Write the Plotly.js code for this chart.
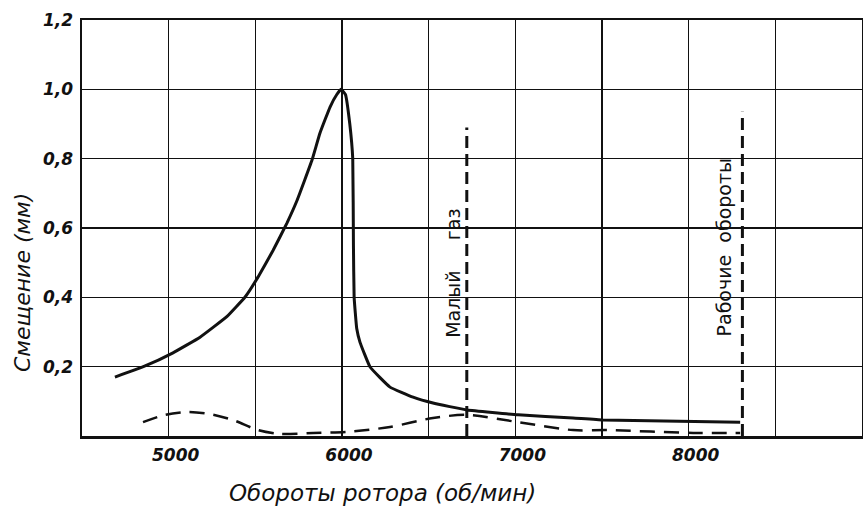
<!DOCTYPE html>
<html>
<head>
<meta charset="utf-8">
<script src="https://cdn.plot.ly/plotly-3.0.1.min.js"></script>
<style>html,body{margin:0;padding:0;background:#fff;}#chart{width:863px;height:508px;}</style>
</head>
<body>
<div id="chart"></div>
<script>
// Solid curve: displacement (mm) vs rotor speed (rpm)
const solidRpm = [4690, 4864, 5025, 5181, 5337, 5441, 5516, 5602, 5683, 5741, 5827, 5873, 5931, 5970, 5995, 6020, 6045, 6062, 6066, 6070, 6085, 6104, 6162, 6277, 6410, 6525, 6722, 7016, 7333, 7506, 8297];
const solidMm  = [0.170, 0.202, 0.240, 0.285, 0.345, 0.401, 0.459, 0.535, 0.615, 0.680, 0.796, 0.874, 0.949, 0.985, 1.000, 0.985, 0.900, 0.800, 0.550, 0.400, 0.310, 0.270, 0.199, 0.141, 0.112, 0.095, 0.075, 0.061, 0.052, 0.046, 0.040];
// Dashed curve
const dashRpm = [4852, 4979, 5106, 5239, 5371, 5516, 5643, 5833, 6029, 6277, 6525, 6722, 7016, 7333, 7530, 8026, 8297];
const dashMm  = [0.040, 0.061, 0.069, 0.063, 0.046, 0.017, 0.006, 0.009, 0.012, 0.026, 0.052, 0.061, 0.040, 0.017, 0.017, 0.009, 0.009];
// Marker lines
const idleRpm = [6720, 6720];
const idleMm  = [0, 0.89];
const workRpm = [8310, 8310];
const workMm  = [0, 0.935];
const idleLabel = "Малый\u00a0\u00a0\u00a0\u00a0\u00a0газ";
const workLabel = "Рабочие\u00a0 обороты";
// Ticks
const xTickVals = [4500, 5000, 5500, 6000, 6500, 7000, 7500, 8000, 8500, 9000];
const xTickText = ["", "5000", "", "6000", "", "7000", "", "8000", "", ""];
const yTickVals = [0, 0.2, 0.4, 0.6, 0.8, 1.0, 1.2];
const yTickText = ["", "0,2", "0,4", "0,6", "0,8", "1,0", "1,2"];
const xTitle = "Обороты ротора (об/мин)";
const yTitle = "Смещение (мм)";

const TICK = "DejaVu Sans, sans-serif";
const HAND = "DejaVu Sans, sans-serif";

const traces = [
  {x: solidRpm, y: solidMm, mode: "lines", line: {color: "#111", width: 3, shape: "spline", smoothing: 0.3}, showlegend: false},
  {x: dashRpm, y: dashMm, mode: "lines", line: {color: "#111", width: 2.5, dash: "15px,9px", shape: "spline", smoothing: 0.8}, showlegend: false},
  {x: idleRpm, y: idleMm, mode: "lines", line: {color: "#111", width: 3, dash: "12px,6px"}, showlegend: false},
  {x: workRpm, y: workMm, mode: "lines", line: {color: "#111", width: 3, dash: "12px,6px"}, showlegend: false}
];

const layout = {
  width: 863, height: 508,
  margin: {l: 82, r: 1, t: 20, b: 72},
  paper_bgcolor: "#fff", plot_bgcolor: "#fff",
  showlegend: false,
  xaxis: {
    range: [4500, 9000], tickmode: "array", tickvals: xTickVals, ticktext: xTickText,
    showgrid: true, gridcolor: "#111", gridwidth: 1.5, zeroline: false,
    showline: true, linecolor: "#111", linewidth: 2.5, mirror: true, ticks: "",
    ticklabelshift: 7, ticklabelstandoff: 2,
    tickfont: {family: TICK, size: 17, color: "#111", style: "italic", weight: "bold"}
  },
  yaxis: {
    range: [0, 1.2], tickmode: "array", tickvals: yTickVals, ticktext: yTickText,
    showgrid: true, gridcolor: "#111", gridwidth: 1.5, zeroline: false,
    showline: true, linecolor: "#111", linewidth: 2.5, mirror: true, ticks: "",
    ticklabelstandoff: 3,
    tickfont: {family: TICK, size: 17, color: "#111", style: "italic", weight: "bold"}
  },
  annotations: [
    {x: idleRpm[0], y: 0.47, xref: "x", yref: "y", text: idleLabel, textangle: -90, showarrow: false,
     xshift: -14, font: {family: HAND, size: 19, color: "#111"}},
    {x: workRpm[0], y: 0.545, xref: "x", yref: "y", text: workLabel, textangle: -90, showarrow: false,
     xshift: -18, font: {family: HAND, size: 19, color: "#111"}},
    {x: 0.385, y: -0.137, xref: "paper", yref: "paper", text: xTitle, showarrow: false,
     xanchor: "center", yanchor: "middle", font: {family: HAND, size: 23, color: "#111", style: "italic"}},
    {x: -0.077, y: 0.37, xref: "paper", yref: "paper", text: yTitle, showarrow: false, textangle: -90,
     xanchor: "center", yanchor: "middle", font: {family: HAND, size: 22, color: "#111", style: "italic"}}
  ]
};

Plotly.newPlot("chart", traces, layout, {displayModeBar: false, staticPlot: true});
</script>
</body>
</html>
